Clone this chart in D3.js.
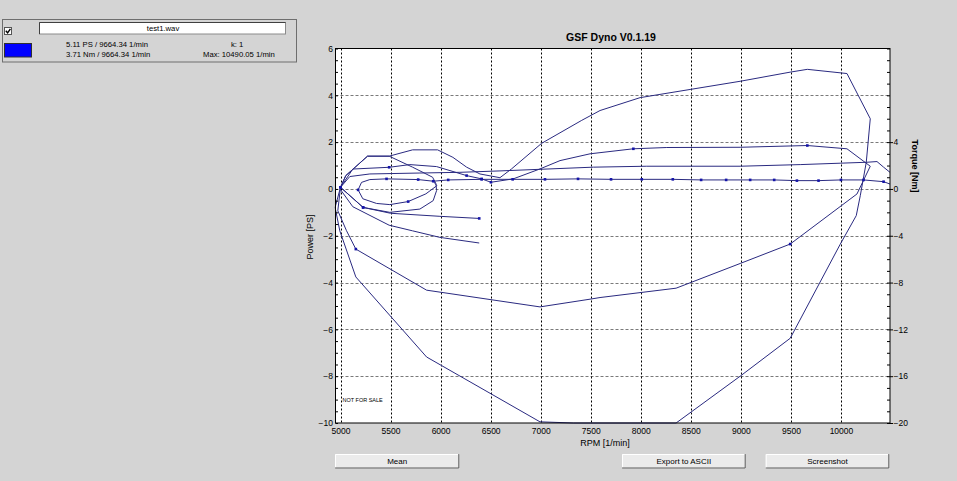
<!DOCTYPE html>
<html>
<head>
<meta charset="utf-8">
<script src="https://cdn.jsdelivr.net/npm/d3@7/dist/d3.min.js"></script>
<style>
  html, body { margin: 0; padding: 0; background: #d4d4d4; }
  svg { display: block; font-family: "Liberation Sans", Arial, sans-serif; }
</style>
</head>
<body>
<svg id="chart" width="957" height="481"></svg>
<script>
// ---------- data ----------
const chartTitle = "GSF Dyno V0.1.19";
const xLabel = "RPM [1/min]";
const yLeftLabel = "Power [PS]";
const yRightLabel = "Torque [Nm]";
const fileName = "test1.wav";
const infoPower = "5.11 PS / 9664.34 1/min";
const infoTorque = "3.71 Nm / 9664.34 1/min";
const infoK = "k: 1";
const infoMax = "Max: 10490.05 1/min";
const buttonLabels = ["Mean", "Export to ASCII", "Screenshot"];
const watermark = "NOT FOR SALE";

const rpmTicks = [5000, 5500, 6000, 6500, 7000, 7500, 8000, 8500, 9000, 9500, 10000];
const powerTicks = [-10, -8, -6, -4, -2, 0, 2, 4, 6];
const torqueTicks = [-20, -16, -12, -8, -4, 0, 4];
const rpmDomain = [4950, 10490.05];
const powerDomain = [-10, 6];
const torqueDomain = [-20, 12];

// [rpm, value, sample marker 1/0]
const powerCurve = [
  [5000,0.07,1],[5053,0.57,0],[5270,1.40,0],[5486,1.40,0],[5720,1.67,0],[5970,1.67,0],
  [6123,1.35,0],[6260,0.93,0],[6393,0.64,0],[6593,0.48,0],[6710,0.86,0],[7010,1.95,0],
  [7410,2.93,0],[7593,3.35,0],[7993,3.90,0],[8493,4.25,0],[8993,4.60,0],[9493,4.99,0],
  [9664,5.11,0],[10060,4.93,0],[10293,3.00,0],[10253,1.14,0],[10193,-0.29,0],[10153,-1.14,0],
  [9993,-2.36,0],[9493,-6.38,0],[8993,-8.00,0],[8353,-10.0,0],[7326,-10.0,0],[6993,-9.95,0],
  [5860,-7.18,0],[5153,-3.76,0],[4993,-1.79,0],[4946,-0.79,0],[5000,0.07,0]
];
const torqueCurve = [
  [5000,0.14,1],[5123,1.70,0],[5486,1.85,1],[5693,2.08,0],[5960,1.91,0],[6260,1.14,1],
  [6410,0.86,1],[6503,0.57,1],[6726,0.86,0],[6993,1.71,0],[7193,2.42,0],[7493,3.00,0],
  [7926,3.43,1],[8260,3.54,0],[8993,3.56,0],[9664,3.71,1],[10060,3.43,0],[10293,1.94,0],
  [10160,-0.43,0],[9493,-4.71,1],[8993,-6.37,0],[8353,-8.48,0],[7593,-9.28,0],[7493,-9.42,0],
  [6993,-10.08,0],[5860,-8.65,0],[5153,-5.14,1],[5060,-3.57,0],[4973,-1.86,0],[5000,0.14,0]
];
const flatPower = [
  [5926,0.33,1],[5963,0.14,0],[5853,-0.21,0],[5676,-0.54,1],[5493,-0.67,0],[5360,-0.62,0],
  [5223,-0.42,0],[5176,-0.04,1],[5210,0.28,0],[5293,0.40,0],[5460,0.43,1],[5776,0.40,1],
  [5926,0.33,0],[6076,0.385,1],[6410,0.41,1],[6720,0.41,1],[7043,0.41,1],[7373,0.43,1],
  [7703,0.41,1],[8010,0.41,1],[8320,0.41,1],[8603,0.385,1],[8853,0.385,1],[9093,0.385,1],
  [9333,0.385,1],[9560,0.355,1],[9776,0.355,1],[10000,0.385,1],[10226,0.385,1],[10426,0.31,1],
  [10490,0.21,0]
];
const midPower = [
  [5000,0.07,0],[5093,0.53,0],[5293,0.64,0],[5793,0.68,0],[6193,0.71,0],[6593,0.77,0],
  [7526,0.93,0],[8060,0.97,0],[8993,0.97,0],[9593,1.04,0],[9993,1.10,0],[10260,1.14,0],
  [10360,1.17,0],[10426,0.93,0],[10490,0.71,0]
];
const loopPower = [
  [5000,0.07,0],[5053,0.57,0],[5270,1.40,0],[5486,1.40,0],[5720,0.93,0],[5920,0.50,0],
  [5953,0.23,0],[5960,-0.07,0],[5926,-0.50,0],[5793,-0.86,0],[5493,-1.00,0],[5226,-0.79,1],
  [5000,0.07,0]
];
const tailPowerA = [[5000,0.07,0],[5226,-0.79,1],[5500,-1.04,0],[5993,-1.17,0],[6386,-1.26,1]];
const tailPowerB = [[5000,-0.03,0],[5123,-0.76,0],[5486,-1.55,0],[5720,-1.79,0],[5993,-2.07,0],[6386,-2.31,0]];

// ---------- layout ----------
const svg = d3.select("#chart");
const L = 335.5, R = 890, T = 48.5, B = 423;
const x = d3.scaleLinear().domain(rpmDomain).range([L, R]);
const yP = d3.scaleLinear().domain(powerDomain).range([B, T]);
const yT = d3.scaleLinear().domain(torqueDomain).range([B, T]);
const font = '"Liberation Sans", Arial, sans-serif';

// ---------- legend panel ----------
const lg = svg.append("g");
lg.append("rect").attr("x", 2.5).attr("y", 19.5).attr("width", 294).attr("height", 42.5)
  .attr("fill", "#d4d4d4").attr("stroke", "#6e6e6e");
lg.append("rect").attr("x", 4.5).attr("y", 27.5).attr("width", 7).attr("height", 7)
  .attr("fill", "#fff").attr("stroke", "#555");
lg.append("path").attr("d", "M5.8,30.8 L7.6,32.8 L10.4,28.8").attr("fill", "none")
  .attr("stroke", "#000").attr("stroke-width", 1.4);
lg.append("rect").attr("x", 39.5).attr("y", 22.5).attr("width", 246).attr("height", 11.5)
  .attr("fill", "#fff").attr("stroke", "#8a8a8a");
lg.append("path").attr("d", "M39.5,34 V22.5 H285.5").attr("fill", "none").attr("stroke", "#404040");
lg.append("text").attr("x", 163).attr("y", 31).attr("text-anchor", "middle")
  .attr("font-size", 7.7).text(fileName);
lg.append("rect").attr("x", 4.5).attr("y", 43.5).attr("width", 27).attr("height", 13.5)
  .attr("fill", "#0000ff").attr("stroke", "#303030");
lg.append("text").attr("x", 66).attr("y", 46.5).attr("font-size", 7.7).text(infoPower);
lg.append("text").attr("x", 66).attr("y", 57).attr("font-size", 7.7).text(infoTorque);
lg.append("text").attr("x", 231).attr("y", 46.5).attr("font-size", 7.7).text(infoK);
lg.append("text").attr("x", 203).attr("y", 57).attr("font-size", 7.7).text(infoMax);

// ---------- plot area ----------
svg.append("rect").attr("x", L).attr("y", T).attr("width", R - L).attr("height", B - T)
  .attr("fill", "#fff");

svg.append("defs").append("clipPath").attr("id", "clip")
  .append("rect").attr("x", L - 1).attr("y", T).attr("width", R - L + 1).attr("height", B - T + 1);

// grid
const grid = svg.append("g");
grid.selectAll("line.h").data(powerTicks.filter(v => v > powerDomain[0] && v < powerDomain[1]))
  .join("line").attr("x1", L).attr("x2", R)
  .attr("y1", d => Math.round(yP(d)) + 0.5).attr("y2", d => Math.round(yP(d)) + 0.5)
  .attr("stroke", "#7a7a7a").attr("stroke-dasharray", "3,2");
grid.selectAll("line.v").data(rpmTicks)
  .join("line").attr("y1", T).attr("y2", B)
  .attr("x1", d => Math.round(x(d)) + 0.5).attr("x2", d => Math.round(x(d)) + 0.5)
  .attr("stroke", "#000").attr("stroke-dasharray", "2,2");

// series
const plot = svg.append("g").attr("clip-path", "url(#clip)");
const lineColor = "#2a2a80";
const series = [
  { data: powerCurve, y: yP },
  { data: torqueCurve, y: yT },
  { data: midPower, y: yP },
  { data: loopPower, y: yP },
  { data: tailPowerA, y: yP },
  { data: tailPowerB, y: yP },
  { data: flatPower, y: yP }
];
series.forEach(s => {
  const gen = d3.line().x(d => x(d[0])).y(d => s.y(d[1]));
  plot.append("path").attr("d", gen(s.data)).attr("fill", "none")
    .attr("stroke", lineColor).attr("stroke-width", 1);
});
series.forEach(s => {
  plot.selectAll(null).data(s.data.filter(d => d[2] === 1)).join("rect")
    .attr("x", d => x(d[0]) - 1.3).attr("y", d => s.y(d[1]) - 1.3)
    .attr("width", 2.6).attr("height", 2.6).attr("fill", "#1414a8");
});

// border
svg.append("rect").attr("x", L).attr("y", T).attr("width", R - L).attr("height", B - T)
  .attr("fill", "none").attr("stroke", "#000");

// axes
function styleAxis(g) {
  g.select(".domain").remove();
  g.selectAll("text").attr("font-family", font).attr("fill", "#000");
  g.selectAll("line").attr("stroke", "#000");
}
const minorP = d3.range(powerDomain[0], powerDomain[1] + 0.001, 0.5);
const minorT = d3.range(torqueDomain[0], torqueDomain[1] + 0.001, 1);

svg.append("g").attr("transform", `translate(${L},0)`)
  .call(d3.axisLeft(yP).tickValues(powerTicks).tickSize(0).tickPadding(2.5).tickFormat(d3.format("d")))
  .call(styleAxis).selectAll("text").attr("font-size", 8.5);
svg.append("g").attr("transform", `translate(${L},0)`)
  .call(d3.axisRight(yP).tickValues(minorP).tickSize(2.5).tickFormat(""))
  .call(styleAxis);

svg.append("g").attr("transform", `translate(${R},0)`)
  .call(d3.axisRight(yT).tickValues(torqueTicks).tickSize(3).tickPadding(0.5).tickFormat(d3.format("d")))
  .call(styleAxis).selectAll("text").attr("font-size", 8.5);
svg.append("g").attr("transform", `translate(${R},0)`)
  .call(d3.axisLeft(yT).tickValues(minorT).tickSize(3).tickFormat(""))
  .call(styleAxis);

svg.append("g").attr("transform", `translate(0,${B})`)
  .call(d3.axisBottom(x).tickValues(rpmTicks).tickSize(0).tickPadding(5).tickFormat(d3.format("d")))
  .call(styleAxis).selectAll("text").attr("font-size", 8.5);

// titles
svg.append("text").attr("x", 611).attr("y", 41).attr("text-anchor", "middle")
  .attr("font-size", 10.5).attr("font-weight", "bold").text(chartTitle);
svg.append("text").attr("x", 605).attr("y", 446).attr("text-anchor", "middle")
  .attr("font-size", 9).text(xLabel);
svg.append("text").attr("transform", "translate(313,237) rotate(-90)").attr("text-anchor", "middle")
  .attr("font-size", 9).text(yLeftLabel);
svg.append("text").attr("transform", "translate(912,166) rotate(90)").attr("text-anchor", "middle")
  .attr("font-size", 9).attr("font-weight", "bold").text(yRightLabel);
svg.append("text").attr("x", 342.5).attr("y", 401.7).attr("font-size", 5.5).text(watermark);

// buttons
const btnX = [[335, 459.3], [622, 745.7], [765.7, 889.3]];
const btns = svg.append("g").selectAll("g").data(buttonLabels).join("g");
btns.each(function(label, i) {
  const g = d3.select(this);
  const x0 = btnX[i][0], x1 = btnX[i][1], y0 = 454, y1 = 468.5;
  g.append("rect").attr("x", x0).attr("y", y0).attr("width", x1 - x0).attr("height", y1 - y0)
    .attr("fill", "#ebebeb");
  g.append("path").attr("d", `M${x0 + 0.5},${y1} V${y0 + 0.5} H${x1}`).attr("fill", "none").attr("stroke", "#fff");
  g.append("path").attr("d", `M${x0},${y1 - 0.5} H${x1 - 0.5} V${y0}`).attr("fill", "none").attr("stroke", "#5a5a5a");
  g.append("text").attr("x", (x0 + x1) / 2).attr("y", 464).attr("text-anchor", "middle")
    .attr("font-size", 8).text(label);
});
</script>
</body>
</html>
